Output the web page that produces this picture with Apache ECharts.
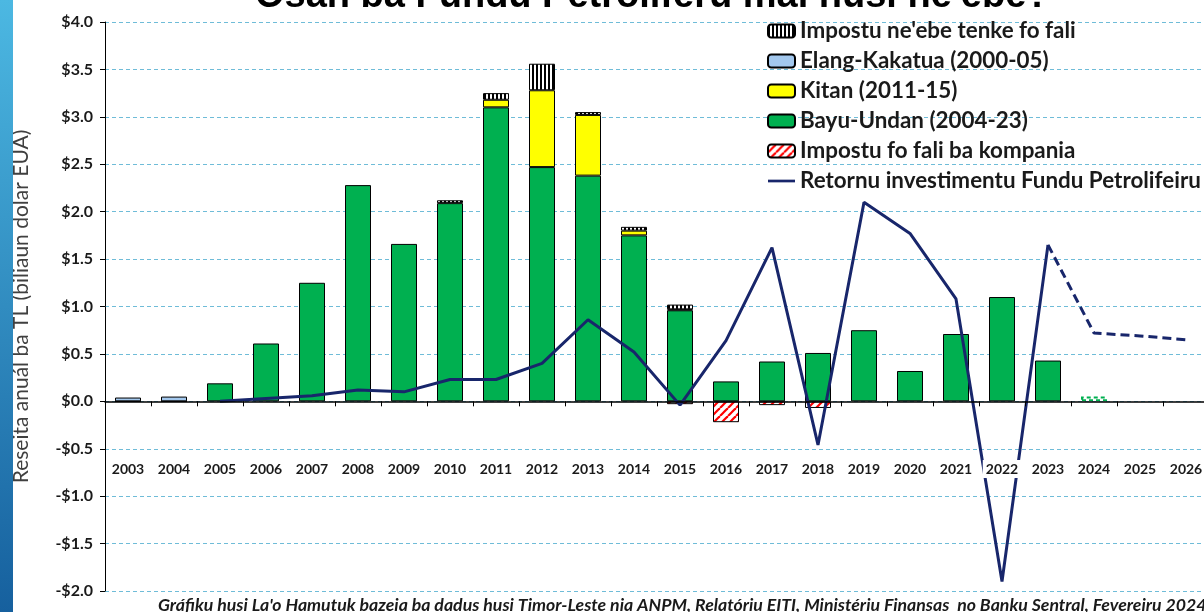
<!DOCTYPE html>
<html>
<head>
<meta charset="utf-8">
<script src="https://cdn.jsdelivr.net/npm/echarts@6/dist/echarts.min.js"></script>
<style>
  html, body { margin: 0; padding: 0; background: #fff; }
  #main { width: 1204px; height: 612px; }
</style>
</head>
<body>
<div id="main"></div>
<script>
//數據
var years = ["2003", "2004", "2005", "2006", "2007", "2008", "2009", "2010", "2011", "2012", "2013", "2014",
  "2015", "2016", "2017", "2018", "2019", "2020", "2021", "2022", "2023", "2024", "2025", "2026"];
var bayuUndan = [0, 0, 0.19, 0.61, 1.25, 2.28, 1.66, 2.09, 3.10, 2.47, 2.38, 1.75,
  0.96, 0.21, 0.42, 0.51, 0.75, 0.32, 0.71, 1.10, 0.43, null, null, null];
var bayuProj = [null, null, null, null, null, null, null, null, null, null, null, null,
  null, null, null, null, null, null, null, null, null, 0.05, null, null];
var kitan = [null, null, null, null, null, null, null, null, 0.08, 0.81, 0.64, 0.05,
  0.01, null, null, null, null, null, null, null, null, null, null, null];
var elang = [0.04, 0.05, null, null, null, null, null, null, null, null, null, null,
  null, null, null, null, null, null, null, null, null, null, null, null];
var taxOwed = [null, null, null, null, null, null, null, 0.03, 0.07, 0.28, 0.03, 0.04,
  0.05, null, null, null, null, null, null, null, null, null, null, null];
var taxRefund = [null, null, null, null, null, null, null, null, null, null, null, null,
  -0.03, -0.22, -0.04, -0.07, null, null, null, null, null, null, null, null];
var pfReturn = [null, null, 0.0, 0.03, 0.06, 0.12, 0.10, 0.23, 0.23, 0.40, 0.86, 0.52,
  -0.04, 0.64, 1.62, -0.46, 2.10, 1.77, 1.08, -1.90, 1.65, null, null, null];
var pfReturnProj = [null, null, null, null, null, null, null, null, null, null, null, null,
  null, null, null, null, null, null, null, null, 1.65, 0.72, 0.69, 0.65];

var names = [
  "Impostu ne'ebe tenke fo fali",
  "Elang-Kakatua (2000-05)",
  "Kitan (2011-15)",
  "Bayu-Undan (2004-23)",
  "Impostu fo fali ba kompania",
  "Retornu investimentu Fundu Petrolifeiru"
];

//花紋
function stripes_v() {
  var c = document.createElement("canvas");
  c.width = 4; c.height = 4;
  var g = c.getContext("2d");
  g.fillStyle = "#fff"; g.fillRect(0, 0, 4, 4);
  g.fillStyle = "#000"; g.fillRect(0, 0, 2, 4);
  return c;
}
function stripes_red() {
  var c = document.createElement("canvas");
  c.width = 8; c.height = 8;
  var g = c.getContext("2d");
  g.fillStyle = "#fff"; g.fillRect(0, 0, 8, 8);
  g.strokeStyle = "#ff0000"; g.lineWidth = 2.2;
  for (var k = -8; k <= 16; k += 8) {
    g.beginPath(); g.moveTo(k, 8); g.lineTo(k + 8, 0); g.stroke();
  }
  return c;
}

var navy = "#18266b";
var border = { borderColor: "#000", borderWidth: 1 };

var myChart = echarts.init(document.getElementById("main"), null, { renderer: "canvas" });

var option = {
  animation: false,
  backgroundColor: "#fff",
  textStyle: { fontFamily: "Lato" },
  graphic: [
    {
      type: "rect", left: 0, top: 0, z: 100,
      shape: { width: 13, height: 612 },
      style: {
        fill: { type: "linear", x: 0, y: 0, x2: 0, y2: 1,
          colorStops: [{ offset: 0, color: "#4cb8e2" }, { offset: 1, color: "#16609e" }] }
      }
    },
    {
      type: "text", left: 255, top: -22, z: 100,
      style: { text: "Osan ba Fundu Petrolíferu mai husi ne'ebé?", fill: "#000",
        font: "bold 38px 'Liberation Sans'" }
    },
    {
      type: "text", left: 158, top: 596, z: 100,
      style: {
        text: "Gráfiku husi La'o Hamutuk bazeia ba dadus husi Timor-Leste nia ANPM, Relatóriu EITI, Ministériu Finansas  no Banku Sentral, Fevereiru 2024",
        fill: "#1a1a1a", font: "italic bold 17.7px Lato"
      }
    }
  ],
  legend: {
    orient: "vertical",
    left: 762,
    top: 15,
    itemWidth: 27,
    itemHeight: 13,
    itemGap: 8,
    textStyle: { fontFamily: "Lato", fontWeight: "bold", fontSize: 22.4, color: "#1a1a1a", lineHeight: 22 },
    data: [
      { name: names[0] },
      { name: names[1] },
      { name: names[2] },
      { name: names[3] },
      { name: names[4] },
      { name: names[5], icon: "path://M0,0 L30,0 L30,3 L0,3 Z" }
    ]
  },
  grid: { left: 105, right: -5, top: 22, bottom: 21, containLabel: false, outerBoundsMode: "none" },
  xAxis: [
    {
      type: "category",
      data: years,
      z: 5,
      axisLine: { onZero: true, lineStyle: { color: "#000", width: 1.5 } },
      axisTick: { show: true, inside: false, length: 5, interval: 0, lineStyle: { color: "#000" } },
      axisLabel: { show: false },
      splitLine: { show: false }
    },
    {
      type: "category",
      data: years,
      position: "bottom",
      offset: -139,
      z: 10,
      axisLine: { show: false, onZero: false },
      axisTick: { show: false },
      axisLabel: {
        interval: 0, margin: 8, color: "#1a1a1a", fontWeight: "bold", fontSize: 14,
        fontFamily: "Lato", backgroundColor: "#fff", padding: [2, 3]
      },
      splitLine: { show: false }
    }
  ],
  yAxis: {
    type: "value",
    min: -2, max: 4, interval: 0.5,
    name: "Reseita anuál ba TL (biliaun dolar EUA)",
    nameLocation: "middle",
    nameRotate: 90,
    nameGap: 73,
    nameTextStyle: { fontSize: 21, color: "#404040", fontFamily: "Lato" },
    axisLine: { show: true, lineStyle: { color: "#000", width: 1 } },
    axisTick: { show: true, length: 5, lineStyle: { color: "#000" } },
    axisLabel: {
      margin: 12, color: "#1a1a1a", fontWeight: "bold", fontSize: 16, fontFamily: "Lato",
      formatter: function (v) {
        return (v < 0 ? "-$" : "$") + Math.abs(v).toFixed(1);
      }
    },
    splitLine: { show: true, lineStyle: { color: "#6fbcd8", type: [4, 3], width: 1 } }
  },
  series: [
    {
      type: "bar", name: names[3], stack: "a", data: bayuUndan, barWidth: 26,
      itemStyle: Object.assign({ color: "#00b050" }, border)
    },
    {
      type: "bar", name: "proj", stack: "a", data: bayuProj, barWidth: 26,
      itemStyle: { color: "#fff", borderColor: "#00b050", borderWidth: 2, borderType: [4, 3] }
    },
    {
      type: "bar", name: names[2], stack: "a", data: kitan, barWidth: 26,
      itemStyle: Object.assign({ color: "#ffff00" }, border)
    },
    {
      type: "bar", name: names[1], stack: "a", data: elang, barWidth: 26,
      itemStyle: Object.assign({ color: "#a3c8ee" }, border)
    },
    {
      type: "bar", name: names[0], stack: "a", data: taxOwed, barWidth: 26,
      itemStyle: Object.assign({ color: { image: stripes_v(), repeat: "repeat" } }, border)
    },
    {
      type: "bar", name: names[4], stack: "a", data: taxRefund, barWidth: 26,
      itemStyle: Object.assign({ color: { image: stripes_red(), repeat: "repeat" } }, border)
    },
    {
      type: "line", name: names[5], data: pfReturn, symbol: "none", z: 3,
      lineStyle: { color: navy, width: 3 }, itemStyle: { color: navy }
    },
    {
      type: "line", name: "projReturn", data: pfReturnProj, symbol: "none", z: 3,
      lineStyle: { color: navy, width: 3, type: [9, 5] }, itemStyle: { color: navy }
    }
  ]
};
myChart.setOption(option);
</script>
</body>
</html>
